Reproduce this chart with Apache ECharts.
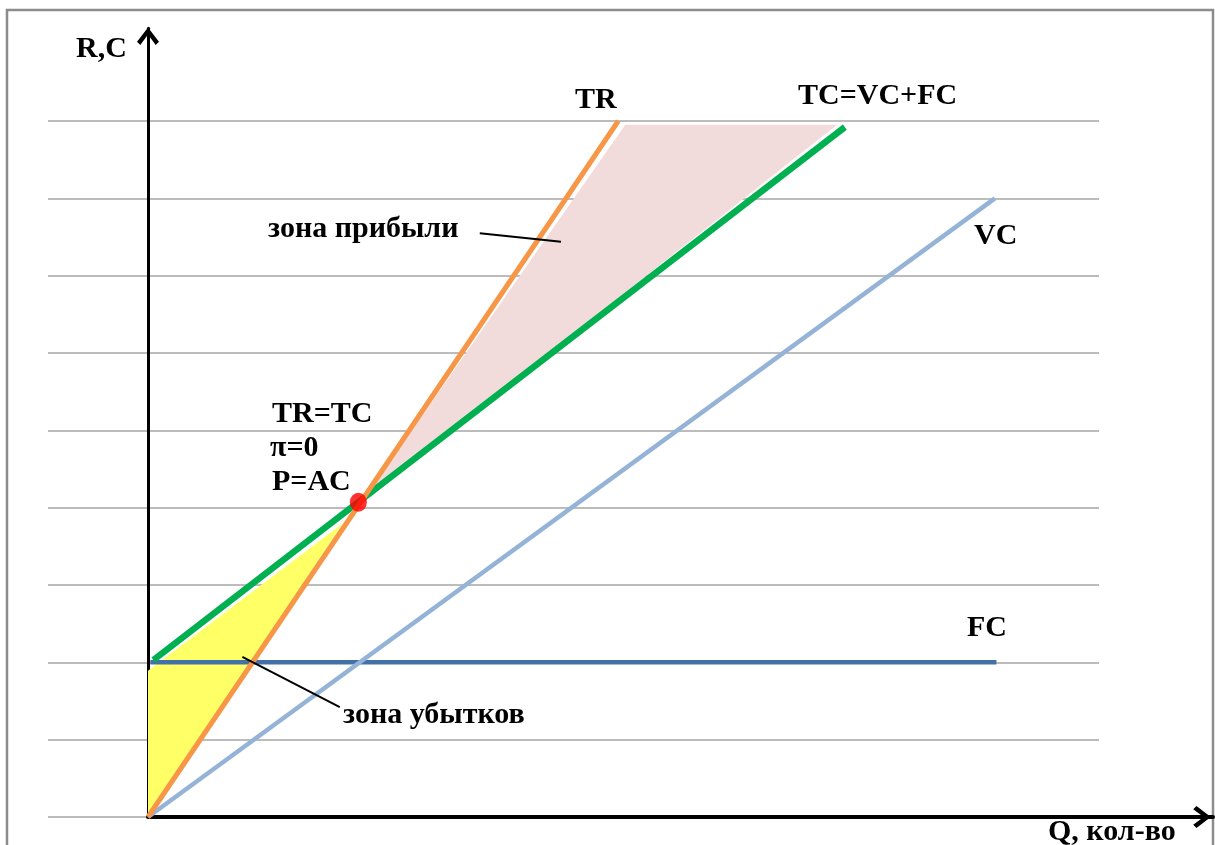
<!DOCTYPE html>
<html>
<head>
<meta charset="utf-8">
<script src="https://cdn.jsdelivr.net/npm/echarts@6/dist/echarts.min.js"></script>
<style>
html,body{margin:0;padding:0;background:#fff;}
#chart{width:1215px;height:845px;}
</style>
</head>
<body>
<div id="chart"></div>
<script>
// ---- data (Q in units, R/C in gridline units) ----
const TR = [[0, 0], [6.08, 9.0]];
const TC = [[0.07, 2.03], [9.01, 8.92]];
const VC = [[0, 0], [10.95, 8.0]];
const FC = [[0.03, 2.0], [10.97, 2.0]];
const breakEven = [[2.72, 4.07]];
const profitZone = [[2.80, 4.12], [6.17, 8.95], [8.91, 8.95]];
const lossZone = [[0.0, 0.0], [0.0, 1.89], [2.52, 3.80]];
const profitLeader = [[4.29, 7.55], [5.34, 7.44]];
const lossLeader = [[1.22, 2.07], [2.48, 1.42]];
const gridTicks = [0, 1, 2, 3, 4, 5, 6, 7, 8, 9];

const FONT = 'bold 30px "Liberation Serif", "Times New Roman", serif';
const chevron = 'path://M10,0 L20,13 L17,16 L10,6.5 L3,16 L0,13 Z';

function polySeries(name, pts, color) {
  return {
    name: name, type: 'custom', xAxisIndex: 0, yAxisIndex: 0, z: 1,
    data: [0], silent: true,
    renderItem: function (params, api) {
      return {
        type: 'polygon',
        shape: { points: pts.map(function (p) { return api.coord(p); }) },
        style: { fill: color }
      };
    }
  };
}
function lineSeries(name, data, color, width, z) {
  return {
    name: name, type: 'line', xAxisIndex: 0, yAxisIndex: 0, data: data,
    showSymbol: false, symbol: 'none', z: z || 3, silent: true,
    lineStyle: { color: color, width: width, cap: 'butt' }
  };
}
function txt(t, x, y) {
  return {
    type: 'text', x: x, y: y, z: 100,
    style: { text: t, font: FONT, fill: '#000', textAlign: 'left', textVerticalAlign: 'middle', align: 'left', verticalAlign: 'middle' }
  };
}

const chart = echarts.init(document.getElementById('chart'), null, { renderer: 'canvas' });
chart.setOption({
  animation: false,
  backgroundColor: '#fff',
  grid: [
    { left: 148, right: 2, top: 28.2, bottom: 28 },
    { left: 48, right: 116, top: 121, bottom: 28 }
  ],
  xAxis: [
    {
      type: 'value', gridIndex: 0, min: 0, max: 13.77,
      axisLine: { show: true, onZero: false, symbol: ['none', chevron], symbolSize: [22, 22], symbolOffset: [0, -11],
        lineStyle: { color: '#000', width: 4 } },
      axisTick: { show: false }, axisLabel: { show: false }, splitLine: { show: false }
    },
    { type: 'value', gridIndex: 1, min: 0, max: 1, show: false }
  ],
  yAxis: [
    {
      type: 'value', gridIndex: 0, min: 0, max: 10.2,
      axisLine: { show: true, onZero: false, symbol: ['none', chevron], symbolSize: [22, 19], symbolOffset: [0, -8],
        lineStyle: { color: '#000', width: 3 } },
      axisTick: { show: false }, axisLabel: { show: false }, splitLine: { show: false }
    },
    {
      type: 'value', gridIndex: 1, min: gridTicks[0], max: gridTicks[gridTicks.length - 1], interval: 1,
      axisLine: { show: false }, axisTick: { show: false }, axisLabel: { show: false },
      splitLine: { show: true, lineStyle: { color: '#a6a6a6', width: 1.5 } }
    }
  ],
  series: [
    polySeries('зона прибыли', profitZone, '#f2dcdb'),
    polySeries('зона убытков', lossZone, '#ffff66'),
    lineSeries('FC', FC, '#4470aa', 4.5, 3),
    lineSeries('VC', VC, '#95b3d7', 4.5, 3),
    lineSeries('TC=VC+FC', TC, '#00b050', 6.5, 4),
    lineSeries('TR', TR, '#f79646', 5, 5),
    lineSeries('profitLeader', profitLeader, '#000', 2, 6),
    lineSeries('lossLeader', lossLeader, '#000', 2, 6),
    {
      name: 'TR=TC', type: 'scatter', xAxisIndex: 0, yAxisIndex: 0, data: breakEven, z: 7,
      symbol: 'circle', symbolSize: [17, 19], itemStyle: { color: '#ff0000' }, silent: true
    }
  ],
  graphic: [
    { type: 'rect', shape: { x: 7, y: 10, width: 1206, height: 900 }, style: { fill: 'none', stroke: '#8c8c8c', lineWidth: 2.5 }, z: 0, silent: true },
    txt('R,C', 76, 49),
    txt('TR', 575, 100),
    txt('TC=VC+FC', 798, 96),
    txt('зона прибыли', 268, 229),
    txt('VC', 974, 236),
    txt('TR=TC', 272, 414),
    txt('π=0', 270, 448),
    txt('P=AC', 272, 482),
    txt('FC', 967, 628),
    txt('зона убытков', 343, 715),
    txt('Q, кол-во', 1048, 832)
  ]
});
</script>
</body>
</html>
